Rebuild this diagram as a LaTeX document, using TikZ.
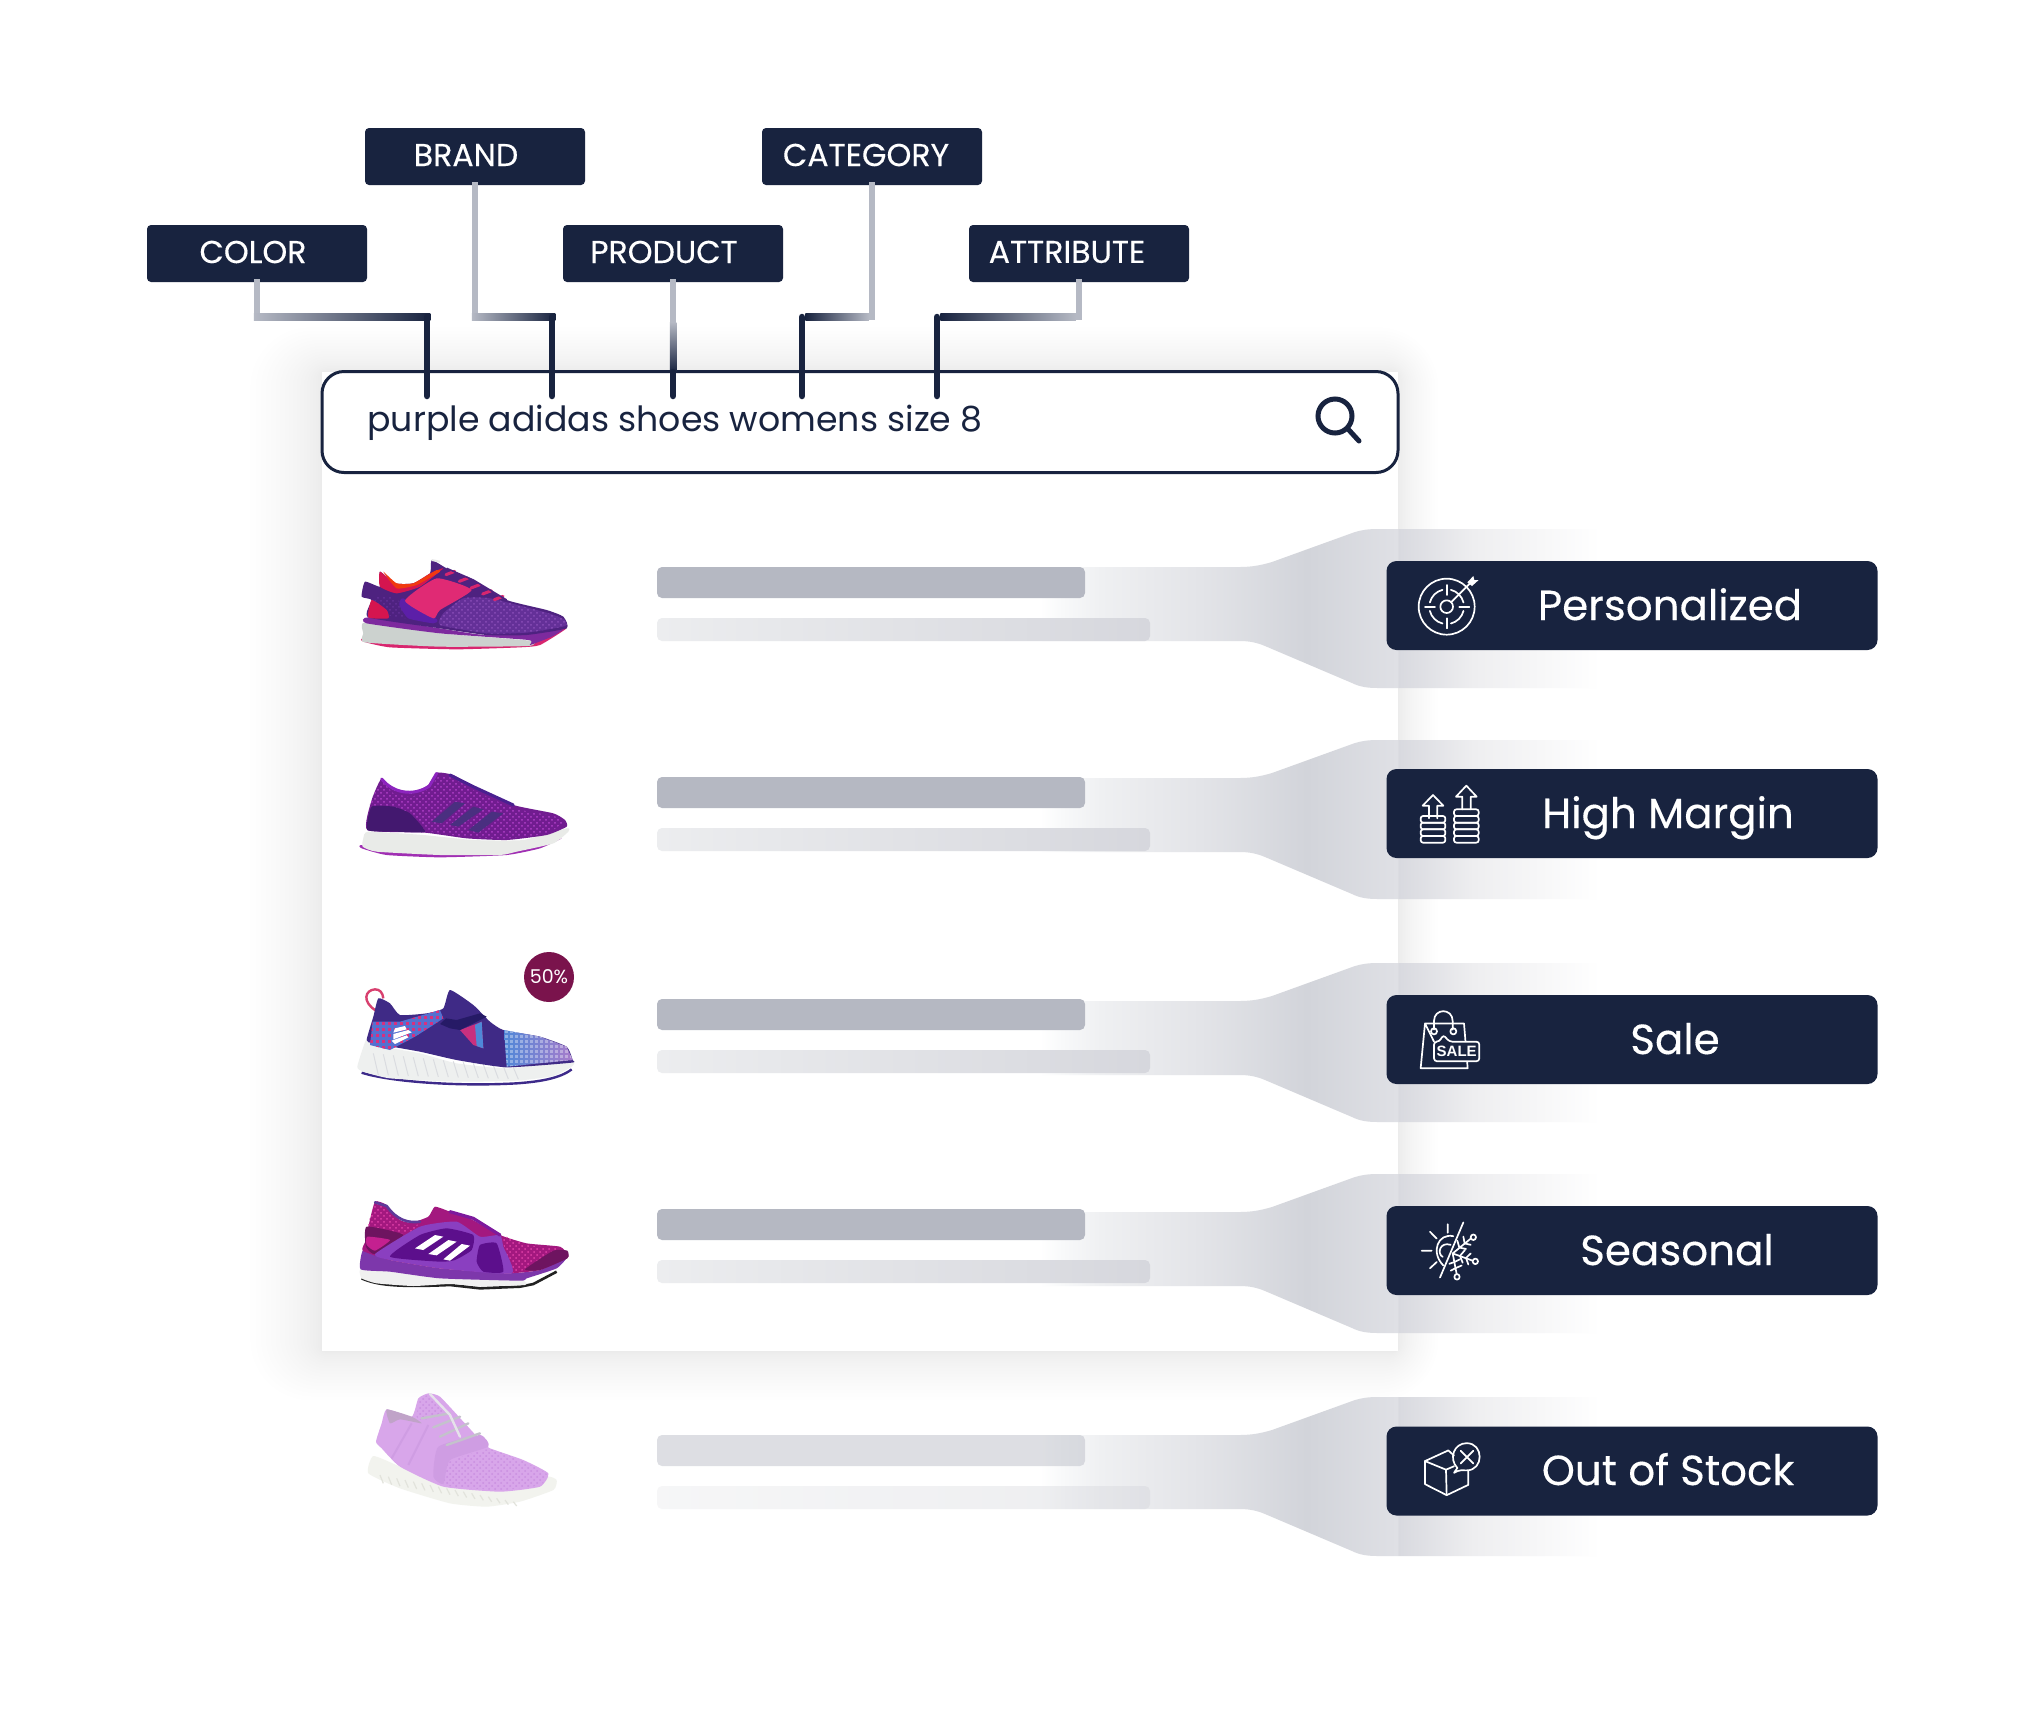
\documentclass[tikz,border=0pt]{standalone}
\usepackage{fontspec}
\setmainfont{Poppins}
\newfontfamily\popmed[FakeBold=0.3]{Poppins}
\newfontfamily\salefont{Liberation Sans}
\usetikzlibrary{positioning,calc,patterns}
\definecolor{navyink}{HTML}{18233F}
\definecolor{wiregray}{HTML}{B5B9C4}
\definecolor{barmain}{HTML}{B5B8C2}
\definecolor{barlo}{HTML}{ECEDEF}
\definecolor{barhi}{HTML}{D6D7DD}
\definecolor{salered}{HTML}{7A134C}
\definecolorset{HTML}{c}{}{F8F9FA,F8F9FA;EFF0F2,EFF0F2;E9EAED,E9EAED;E3E4E8,E3E4E8;D2D4DA,D2D4DA;DFE0E5,DFE0E5;D8D9DF,D8D9DF;EEEEF0,EEEEF0;D8266F,D8266F;CCD2CF,CCD2CF;7D2A9E,7D2A9E;4E2280,4E2280;643098,643098;8A4DB8,8A4DB8;D5154F,D5154F;F03A10,F03A10;5C1FA8,5C1FA8;E02A74,E02A74;E8E8E8,E8E8E8;A02FB3,A02FB3;E9EBE8,E9EBE8;711C90,711C90;B040C8,B040C8;43186F,43186F;4A2F80,4A2F80;4A2090,4A2090;8C24BE,8C24BE;3D2A8A,3D2A8A;EEF0EF,EEF0EF;DADCE0,DADCE0;D8406F,D8406F;3F2A86,3F2A86;5570D0,5570D0;D8307F,D8307F;4F88D8,4F88D8;A97CCB,A97CCB;C8307F,C8307F;261A66,261A66;222222,222222;F0F0F0,F0F0F0;7D37AB,7D37AB;A3187F,A3187F;E040A8,E040A8;6E1460,6E1460;C42090,C42090;8A3FC0,8A3FC0;5C0F8C,5C0F8C;7D1A9D,7D1A9D;5E3A9A,5E3A9A;F2F3EE,F2F3EE;D8A6EA,D8A6EA;C98FE0,C98FE0;C0A3C8,C0A3C8;CF9DE3,CF9DE3;C4C2CC,C4C2CC;E6E2EA,E6E2EA;E2E3DC,E2E3DC}
\pgfdeclarehorizontalshading{stripshade}{100bp}{color(0bp)=(white); color(25bp)=(white); color(27bp)=(cF8F9FA); color(30.4bp)=(cEFF0F2); color(34.8bp)=(cE9EAED); color(39.3bp)=(cE3E4E8); color(48.8bp)=(cD2D4DA); color(56.9bp)=(cDFE0E5); color(57bp)=(cD8D9DF); color(63.7bp)=(cEEEEF0); color(75bp)=(white); color(100bp)=(white)}
\tikzset{
tag/.style={fill=navyink, rounded corners=2pt, minimum width=110pt, minimum height=28.5pt, inner sep=0pt, outer sep=0pt},
tagtext/.style={text=white, inner sep=0pt, font=\popmed\fontsize{15.8}{15.8}\selectfont},
badge/.style={fill=navyink, rounded corners=5pt, minimum width=245.5pt, minimum height=44.5pt, inner sep=0pt, outer sep=0pt},
badgetext/.style={text=white, inner sep=0pt, anchor=base, font=\popmed\fontsize{21}{21}\selectfont},
wirelight/.style={draw=wiregray, line width=3.25pt, line cap=rect},
wiredark/.style={draw=navyink, line width=3.25pt, line cap=round},
icon/.style={draw=white, line width=.85pt, line cap=round, line join=round},
}
% one connector from a tag down to a word of the query
\newcommand{\wire}[3]{
	\draw[wirelight] (#1.south) -- (#1.south |- 0,317);
	\shade[#3] ($(#1.south |- 0,317)+(-3.25,-3.25)$) rectangle ($(#2 |- 0,317)+(3.25,3.25)$);
	\draw[wiredark] (#2 |- 0,317) -- (#2);
}
% grey funnel with the two text bars of a result row
\newcommand{\resultrow}[3]{
	\shade[shading=stripshade] (1040,#1) -- (1240,#1) .. controls (1252,#1) and (1262,#1-2) .. (1272,#1-5) -- (1355,#1-35) .. controls (1362,#1-37) and (1368,#1-38) .. (1378,#1-38) -- (1600,#1-38) -- (1600,#1+121) -- (1378,#1+121) .. controls (1368,#1+121) and (1360,#1+120) .. (1352,#1+116) -- (1265,#1+79) .. controls (1258,#1+76) and (1250,#1+74) .. (1240,#1+74) -- (1040,#1+74) -- cycle;
	\fill[barmain, rounded corners=2.5pt, opacity=#3] (657,#2) rectangle (1085,#2+31);
	\shade[left color=barlo, right color=barhi, rounded corners=2.5pt, opacity=#3] (657,#2+51) rectangle (1150,#2+74);
}
\newcommand{\blob}[2]{\fill[#1] plot[smooth cycle, tension=.3] coordinates {#2};}
\newcommand{\meshblob}[2]{\fill[pattern=crosshatch dots, pattern color=#1] plot[smooth cycle, tension=.3] coordinates {#2};}
\newcommand{\coinstack}[3]{
	\foreach \n in {1,...,#3}
		\draw[icon, rounded corners=1.2pt] (#1,878-20*\n) rectangle (#1+74,878-20*\n+20);
}
\begin{document}
\begin{tikzpicture}[x=0.5pt,y=-0.5pt]
	\useasboundingbox (0,0) rectangle (2026,1726);
	\fill[white] (0,0) rectangle (2026,1726);

	% panel and its soft shadow
	\foreach \i in {1,...,20}
		\fill[black, opacity=.0036, rounded corners=\i*1.5pt] ({322-.8*\i^1.5},{372-.5*\i^1.5}) rectangle ({1398+.45*\i^1.5},{1351+.55*\i^1.5});
	\fill[white] (322,372) rectangle (1398,1351);

	% result rows
	\resultrow{567}{567}{1}
	\resultrow{778}{777}{1}
	\resultrow{1001}{999}{1}
	\resultrow{1212}{1209}{1}
	\resultrow{1435}{1435}{.45}

	% search box
	\node[draw=navyink, line width=1.5pt, fill=white, rounded corners=11pt, minimum width=538pt, minimum height=50.5pt, inner sep=0pt] (searchbox) at (860,422) {};
	\node[anchor=base west, inner sep=0pt, text=navyink, font=\fontsize{17.35}{17.35}\selectfont] (query) at (367,431) {purple adidas shoes womens size 8};
	\draw[navyink, line width=2.5pt, line cap=round] (1335,416) circle (17) (1348,429) -- (1359,441);

	% tags
	\node[tag] (colortag) at (257,253.5) {};
	\node[tag] (brandtag) at (475,156.5) {};
	\node[tag] (producttag) at (673,253.5) {};
	\node[tag] (categorytag) at (872,156.5) {};
	\node[tag] (attributetag) at (1079,253.5) {};
	\node[tagtext] (colorlabel) at (253,252) {COLOR};
	\node[tagtext] (brandlabel) at (466,155) {BRAND};
	\node[tagtext] (productlabel) at (664,252) {PRODUCT};
	\node[tagtext] (categorylabel) at (866,155) {CATEGORY};
	\node[tagtext] (attributelabel) at (1067,252) {ATTRIBUTE};

	\coordinate (colorend) at (427,396);
	\coordinate (brandend) at (552,396);
	\coordinate (categoryend) at (802,396);
	\coordinate (attributeend) at (937,396);
	\coordinate (productend) at (673,396);
	\wire{colortag}{colorend}{left color=wiregray, right color=navyink}
	\wire{brandtag}{brandend}{left color=wiregray, right color=navyink}
	\wire{categorytag}{categoryend}{right color=wiregray, left color=navyink}
	\wire{attributetag}{attributeend}{right color=wiregray, left color=navyink}
	\draw[wirelight] (producttag.south) -- (producttag.south |- 0,322);
	\shade[top color=wiregray, bottom color=navyink] ($(producttag.south |- 0,322)+(-3.25,0)$) rectangle ($(productend |- 0,372)+(3.25,0)$);
	\draw[wiredark] (productend |- 0,372) -- (productend);

	% badges
	\node[badge] (personalbadge) at (1632,605.5) {};
	\node[badge] (marginbadge) at (1632,813.5) {};
	\node[badge] (salebadge) at (1632,1039.5) {};
	\node[badge] (seasonbadge) at (1632,1250.5) {};
	\node[badge] (stockbadge) at (1632,1471) {};
	\node[badgetext] (personallabel) at (1670,620) {Personalized};
	\node[badgetext] (marginlabel) at (1668,828) {High Margin};
	\node[badgetext] (salelabel) at (1675,1054) {Sale};
	\node[badgetext] (seasonlabel) at (1677,1265) {Seasonal};
	\node[badgetext] (stocklabel) at (1668,1485) {Out of Stock};

	% target icon
	\begin{scope}[shift={(1380,550)},scale=1/3]
		\draw[icon] (200,170) circle (84) (200,170) circle (19);
		\foreach \a in {0,90,180,270}
			\draw[icon] ([shift={(\a+14:52)}]200,170) arc[start angle=\a+14, end angle=\a+76, radius=52];
		\draw[icon] (200,105) -- (200,135) (200,205) -- (200,235) (135,170) -- (165,170) (238,170) -- (268,170);
		\draw[icon] (213,157) -- (270,100);
		\fill[white] (262,97) -- (280,78) -- (283,90) -- (296,90) -- (276,108) -- cycle;
	\end{scope}
	% coins icon
	\begin{scope}[shift={(1380,550)},scale=1/3]
		\coinstack{122}{798}{4}
		\coinstack{222}{772}{5}
		\draw[icon] (147,805) -- (147,767) -- (128,767) -- (159,735) -- (190,767) -- (172,767) -- (172,805);
		\draw[icon] (247,778) -- (247,740) -- (228,740) -- (259,707) -- (290,740) -- (272,740) -- (272,778);
	\end{scope}
	% sale bag icon
	\begin{scope}[shift={(1380,990)},xscale=1/3,yscale=1/2.904]
		\draw[icon] (162,150) -- (135,97) -- (252,97) -- (263,227) -- (122,227) -- (135,97);
		\draw[icon] (162,115) -- (162,90) .. controls (162,52) and (218,52) .. (218,90) -- (218,115);
		\draw[icon] (162,120) circle (9) (220,120) circle (9);
		\draw[icon, fill=navyink, rounded corners=1.5pt] (162,150) -- (178,150) -- (190,130) -- (208,150) -- (298,150) -- (298,207) -- (162,207) -- cycle;
		\node[text=white, inner sep=0pt, font=\salefont\bfseries\fontsize{7.5}{7.5}\selectfont] (saleword) at (230,179) {SALE};
	\end{scope}
	% sun and snow icon
	\begin{scope}[shift={(1380,990)},xscale=1/3,yscale=1/2.904]
		\draw[icon] (250,675) -- (180,835);
		\draw[icon] (220,715) .. controls (175,705) and (150,760) .. (190,800);
		\draw[icon] (212,740) .. controls (180,730) and (170,765) .. (188,775);
		\draw[icon] (203,680) -- (203,705) (150,702) -- (170,722) (125,757) -- (155,757) (150,808) -- (170,790);
		\draw[icon] (218,765) -- (272,722) (218,765) -- (278,786) (218,765) -- (230,825);
		\draw[icon] (280,718) circle (8) (286,788) circle (8) (231,833) circle (8);
		\draw[icon] (238,748) -- (232,728) (238,748) -- (258,752) (254,736) -- (250,716) (254,736) -- (272,740);
		\draw[icon] (240,772) -- (255,755) (240,772) -- (248,792) (258,778) -- (272,765) (258,778) -- (265,797);
		\draw[icon] (223,790) -- (208,795) (223,790) -- (240,782) (226,808) -- (212,815) (226,808) -- (245,800);
	\end{scope}
	% parcel icon
	\begin{scope}[shift={(1380,990)},xscale=1/3,yscale=1/2.904]
		\draw[icon] (222,1352) -- (205,1337) -- (135,1368) -- (198,1393) -- (222,1383);
		\draw[icon] (135,1368) -- (135,1435) -- (200,1467) -- (265,1437) -- (265,1397);
		\draw[icon] (198,1393) -- (200,1467);
		\draw[icon] (232,1388) .. controls (205,1360) and (222,1316) .. (260,1316) .. controls (312,1316) and (312,1395) .. (260,1395) .. controls (248,1395) and (240,1392) .. (222,1402) -- cycle;
		\draw[icon] (242,1338) -- (280,1375) (280,1338) -- (242,1375);
	\end{scope}

	% shoe one
	\begin{scope}[shift={(340,530)},scale=1/3]
		\blob{cD8266F}{(70,335) (150,352) (350,358) (540,352) (600,345) (680,295) (640,300) (570,335) (300,340) (75,325)}
		\blob{cCCD2CF}{(75,278) (300,310) (570,332) (565,348) (300,350) (75,337) (70,310)}
		\blob{c7D2A9E}{(85,262) (300,295) (440,315) (660,300) (680,292) (640,318) (570,345) (565,330) (300,310) (80,280)}
		\blob{c4E2280}{(65,200) (75,155) (120,170) (120,125) (165,160) (220,160) (270,130) (275,90) (320,115) (400,150) (500,210) (620,240) (670,260) (680,295) (560,315) (440,315) (300,295) (85,262) (95,210)}
		\blob{c643098}{(310,250) (370,205) (450,205) (620,248) (672,268) (676,288) (560,308) (440,310) (300,285)}
		\meshblob{c8A4DB8}{(310,250) (370,205) (450,205) (620,248) (672,268) (676,288) (560,308) (440,310) (300,285)}
		\meshblob{c643098}{(100,205) (150,200) (220,240) (200,265) (145,255)}
		\blob{cD5154F}{(95,210) (140,240) (145,265) (85,262)}
		\blob{cD5154F}{(120,125) (165,160) (220,160) (270,130) (310,115) (240,170) (170,190) (120,170)}
		\blob{cF03A10}{(130,125) (170,160) (220,160) (290,120) (300,125) (230,165) (170,175)}
		\blob{c5C1FA8}{(178,225) (190,205) (290,268) (280,280) (205,265)}
		\blob{cE02A74}{(195,212) (290,145) (395,180) (300,240) (280,265)}
		\foreach \lx/\ly in {330/120,370/140,405/160,440/178,475/195}
			\draw[cD8266F, line width=1.5pt, line cap=round] (\lx-12,\ly+14) -- (\lx+14,\ly+4);
		\draw[c4E2280, line width=.8pt] (320,115) -- (400,150) -- (500,210);
		\draw[cE8E8E8, line width=1pt] (275,90) -- (300,95);
	\end{scope}
	% shoe two
	\begin{scope}[shift={(340,530)},scale=1/3]
		\blob{cA02FB3}{(65,955) (140,975) (300,982) (500,975) (600,955) (665,925) (600,945) (300,965) (70,945)}
		\blob{cE9EBE8}{(70,925) (85,905) (250,915) (400,930) (550,930) (680,895) (685,905) (640,940) (530,965) (480,975) (300,975) (110,965) (68,950)}
		\blob{c711C90}{(82,900) (95,810) (125,745) (160,780) (215,790) (265,765) (290,728) (340,735) (400,770) (520,825) (640,850) (675,870) (680,890) (620,915) (500,930) (380,925) (255,908)}
		\meshblob{cB040C8}{(90,830) (125,755) (160,790) (215,800) (270,775) (295,740) (340,745) (400,780) (520,835) (640,858) (672,875) (620,910) (500,925) (380,920) (255,900) (210,850)}
		\blob{c43186F}{(82,900) (95,830) (160,830) (210,850) (255,905) (170,905)}
		\fill[c4A2F80] (275,875) -- (345,815) -- (375,820) -- (305,880) -- cycle (330,885) -- (400,830) -- (430,838) -- (355,890) -- cycle (385,900) -- (455,845) -- (490,850) -- (415,908) -- cycle;
		\draw[c4A2090, line width=1.5pt, line cap=round] (330,735) -- (400,770) -- (520,825);
		\draw[c8C24BE, line width=1.5pt, line cap=round] (125,747) .. controls (160,790) and (220,800) .. (268,768) -- (290,730);
	\end{scope}
	% shoe three
	\begin{scope}[shift={(340,950)},scale=1/3]
		\draw[c3D2A8A, line width=1.2pt] (65,368) .. controls (150,395) and (350,410) .. (530,400) .. controls (600,395) and (660,385) .. (695,358);
		\blob{cEEF0EF}{(52,350) (78,270) (100,285) (240,310) (350,340) (500,355) (695,335) (695,350) (640,378) (530,392) (350,395) (150,385) (70,365)}
		\foreach \x in {100,130,...,520}
			\draw[cDADCE0, line width=.5pt] (\x,{310+(\x-100)*.1}) -- (\x+15,{375+(\x-100)*.03});
		\draw[cD8406F, line width=1.2pt] (108,182) .. controls (65,155) and (75,120) .. (105,118) .. controls (120,118) and (128,128) .. (130,145);
		\blob{c3F2A86}{(80,270) (100,200) (115,145) (150,160) (180,195) (260,190) (310,175) (330,120) (400,165) (450,215) (490,240) (600,260) (680,290) (698,330) (695,338) (500,352) (350,330) (240,305) (100,280)}
		\begin{scope}
			\clip (90,285) -- (98,215) -- (180,215) -- (300,180) -- (310,205) -- (280,225) -- (225,260) -- (150,300) -- cycle;
			\fill[c5570D0] (80,170) rectangle (320,310);
			\foreach \kx in {90,108,...,310}
				\foreach \ky in {180,198,...,300}
					\fill[cD8307F] (\kx,\ky) rectangle (\kx+9,\ky+9);
		\end{scope}
		\begin{scope}
			\clip (492,240) -- (600,260) -- (680,290) -- (698,330) -- (500,350) -- cycle;
			\shade[left color=c4F88D8, right color=cA97CCB] (490,235) rectangle (700,355);
			\foreach \kx in {495,510,...,700}
				\foreach \ky in {240,255,...,350}
					\fill[white, opacity=.35] (\kx,\ky) rectangle (\kx+8,\ky+8);
		\end{scope}
		\fill[cC8307F] (360,240) -- (425,215) -- (430,295) -- (400,285) -- cycle;
		\fill[c4F88D8] (405,225) -- (425,215) -- (430,295) -- (410,288) -- cycle;
		\fill[c261A66] (300,222) -- (318,205) -- (350,210) -- (420,190) -- (440,200) -- (360,240) -- (330,235) -- cycle;
		\fill[white] (165,235) -- (195,228) -- (200,238) -- (160,248) -- cycle (160,252) -- (205,240) -- (215,247) -- (160,268) -- cycle (155,272) -- (200,256) -- (205,262) -- (165,282) -- cycle;
	\end{scope}
	\node[circle, fill=salered, minimum size=25pt, inner sep=0pt, text=white, font=\fontsize{9.5}{9.5}\selectfont] (discount) at (549,977) {50\%};
	% shoe four
	\begin{scope}[shift={(340,1180)},scale=1/3]
		\draw[c222222, line width=1.3pt] (65,295) .. controls (110,315) and (170,322) .. (330,315) -- (420,325) -- (540,320) -- (580,312) -- (650,275);
		\blob{cF0F0F0}{(62,268) (150,275) (300,295) (540,300) (555,315) (420,318) (330,312) (220,318) (110,310) (65,295)}
		\blob{c7D37AB}{(68,212) (105,222) (150,240) (300,265) (500,280) (600,270) (680,232) (650,265) (560,295) (540,302) (300,295) (150,275) (62,268)}
		\blob{cA3187F}{(78,180) (85,140) (105,65) (140,75) (180,120) (215,128) (265,110) (285,80) (330,95) (380,110) (480,165) (560,190) (660,200) (685,225) (680,235) (600,270) (500,280) (300,265) (150,240) (68,212)}
		\meshblob{cE040A8}{(85,150) (105,70) (140,85) (180,130) (215,138) (250,130) (200,160)}
		\meshblob{cE040A8}{(490,170) (560,195) (655,205) (640,212) (555,268) (510,275)}
		\blob{c6E1460}{(80,140) (190,165) (105,222) (78,200)}
		\blob{cC42090}{(82,170) (150,180) (105,212) (80,195)}
		\blob{c6E1460}{(555,268) (640,212) (682,212) (682,235) (600,270)}
		\blob{c8A3FC0}{(105,222) (240,140) (350,125) (420,170) (480,165) (490,200) (515,280) (300,265) (150,240)}
		\blob{c5C0F8C}{(150,230) (240,165) (320,145) (400,165) (395,210) (345,240) (300,245)}
		\blob{c5C0F8C}{(410,245) (420,195) (470,190) (490,275) (430,275)}
		\fill[white] (225,205) -- (285,165) -- (310,170) -- (250,210) -- cycle (265,222) -- (325,180) -- (350,185) -- (290,226) -- cycle (310,238) -- (365,192) -- (390,197) -- (330,242) -- cycle;
		\draw[c7D1A9D, line width=1.6pt, line cap=round] (330,95) -- (400,115) -- (480,165);
		\draw[c5E3A9A, line width=1.3pt, line cap=round] (105,67) -- (140,78) .. controls (170,120) and (205,130) .. (240,125);
	\end{scope}
	% shoe five
	\begin{scope}[shift={(340,1380)},scale=1/3]
		\blob{cF2F3EE}{(85,280) (100,228) (180,260) (310,320) (500,330) (620,290) (650,300) (640,330) (540,365) (440,380) (330,370) (180,325)}
		\foreach \x in {120,145,...,520}
			\draw[cE2E3DC, line width=.6pt] (\x,{285+(\x-120)*.2}) -- (\x+10,{310+(\x-120)*.17});
		\blob{cD8A6EA}{(125,205) (108,185) (125,130) (140,88) (215,110) (235,55) (265,40) (300,50) (370,125) (430,190) (450,205) (550,240) (625,280) (600,320) (480,335) (310,320) (180,260)}
		\meshblob{cC98FE0}{(320,250) (445,208) (550,245) (620,282) (600,315) (480,330) (315,315)}
		\meshblob{cC98FE0}{(230,110) (240,60) (265,45) (295,55) (310,100) (250,120)}
		\blob{cC0A3C8}{(140,88) (215,110) (245,130) (180,118) (150,130)}
		\blob{cCF9DE3}{(280,290) (295,200) (420,165) (445,200) (330,240) (310,312)}
		\draw[cCF9DE3, line width=1pt] (155,235) -- (215,130) (205,255) -- (265,135);
		\draw[cC4C2CC, line width=1.2pt, line cap=round] (245,115) -- (330,100) (280,142) -- (360,110) (300,170) -- (385,130) (320,195) -- (420,160);
		\draw[cE6E2EA, line width=1.2pt, line cap=round] (270,42) -- (330,105) -- (360,170);
	\end{scope}
\end{tikzpicture}
\end{document}
